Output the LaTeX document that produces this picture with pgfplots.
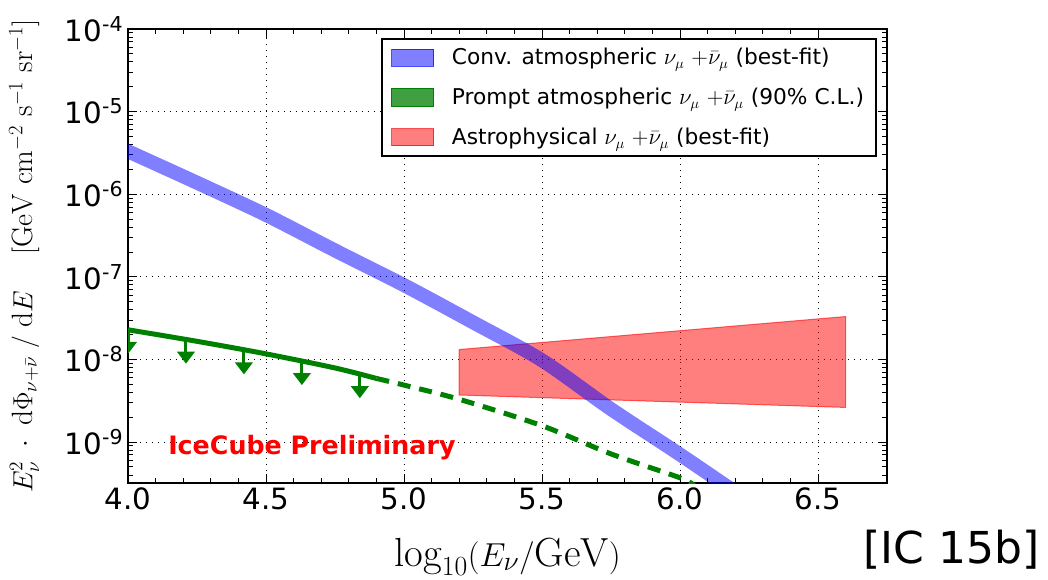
\documentclass[border=0pt]{standalone}
\usepackage{pgfplots}
\pgfplotsset{compat=1.18}
\usepackage{fontspec}
\newfontfamily\dejavu{DejaVu Sans}
\usetikzlibrary{arrows.meta}
\definecolor{mplblue}{rgb}{0,0,1}
\definecolor{mplgreen}{rgb}{0,0.5,0}
\definecolor{mplred}{rgb}{1,0,0}
\begin{document}
\begin{tikzpicture}
\useasboundingbox (0,0) rectangle (786pt,434.25pt);
\begin{axis}[
  at={(96pt,72pt)}, anchor=south west,
  scale only axis, width=569.25pt, height=340.5pt,
  xmin=4.0, xmax=6.75,
  ymode=log, log basis y=10,
  ymin=3.2e-10, ymax=1e-4,
  xtick={4.0,4.5,5.0,5.5,6.0,6.5},
  minor x tick num=4,
  grid=major,
  major grid style={black, line width=0.75pt, dash pattern=on 1pt off 3.5pt},
  axis line style={line width=1.5pt},
  every tick/.style={black, line width=0.75pt},
  major tick length=7pt, minor tick length=3.5pt,
  tick align=inside,
  xticklabel={\pgfmathprintnumber[fixed,fixed zerofill,precision=1,assume math mode=true]{\tick}},
  yticklabel={\pgfmathtruncatemacro{\ee}{round(\tick)}10\textsuperscript{\ee}},
  tick label style={font=\dejavu\fontsize{22}{26}\selectfont},
  xlabel={$\log_{10}(E_\nu/\mathrm{GeV})$},
  xlabel style={at={(axis description cs:0.5,-0.1828)}, anchor=base, font=\fontsize{30.5}{34}\selectfont},
  ylabel={$E_\nu^2\;\cdot\;\mathrm{d}\Phi_{\nu+\bar{\nu}}\;/\;\mathrm{d}E\quad\;[\mathrm{GeV\ cm^{-2}\ s^{-1}\ sr^{-1}}]$},
  ylabel style={at={(axis description cs:-0.137,0.5)}, anchor=center, font=\fontsize{22}{26}\selectfont},
  legend cell align=left,
  legend style={at={(axis description cs:0.987,0.980)}, anchor=north east, draw=black, line width=1.5pt, fill=white,
    font=\dejavu\fontsize{16.3}{19}\selectfont, row sep=12pt, inner xsep=7pt, inner ysep=5pt},
  legend image code/.code={\draw[#1, line width=0.75pt] (0pt,-6.4pt) rectangle (31.5pt,6.4pt); \path (42.5pt,0pt);},
]
\addlegendimage{fill=mplblue, fill opacity=0.5, draw=mplblue, draw opacity=0.7}
\addlegendentry{Conv. atmospheric $\nu_\mu$ $+\bar{\nu}_\mu$ (best-fit)}
\addlegendimage{fill=mplgreen, fill opacity=0.75, draw=mplgreen}
\addlegendentry{Prompt atmospheric $\nu_\mu$ $+\bar{\nu}_\mu$ (90\% C.L.)}
\addlegendimage{fill=mplred, fill opacity=0.5, draw=mplred, draw opacity=0.7}
\addlegendentry{Astrophysical $\nu_\mu$ $+\bar{\nu}_\mu$ (best-fit)}

% astrophysical band
\addplot[forget plot, fill=mplred, fill opacity=0.5, draw=mplred, draw opacity=0.6, line width=0.75pt]
  coordinates {(5.2,1.32e-8) (6.6,3.31e-8) (6.6,2.63e-9) (5.2,3.72e-9) (5.2,1.32e-8)};

% conventional atmospheric band (centre of band, drawn as a wide translucent stroke)
\addplot[forget plot, mplblue, draw opacity=0.5, line width=10.5pt, line cap=rect, smooth]
  coordinates {(4.0,3.31e-6) (4.25,1.38e-6) (4.5,5.62e-7) (4.75,2.09e-7) (5.0,7.94e-8) (5.25,2.82e-8)
               (5.5,9.77e-9) (5.75,2.51e-9) (6.0,7.08e-10) (6.25,1.91e-10)};

% prompt limit
\addplot[forget plot, mplgreen, line width=3.75pt, smooth]
  coordinates {(4.0,2.29e-8) (4.25,1.66e-8) (4.5,1.17e-8) (4.75,7.9e-9) (4.9,5.9e-9)};
\addplot[forget plot, mplgreen, line width=3.75pt, dash pattern=on 9.75pt off 6.75pt, smooth]
  coordinates {(4.9,5.9e-9) (5.0,4.9e-9) (5.2,3.3e-9) (5.5,1.58e-9) (5.75,7.2e-10) (6.0,3.7e-10) (6.05,3.0e-10)};

% upper-limit arrows
\addplot[forget plot, mplgreen, line width=2.25pt, -{Triangle[width=13pt,length=9pt]}] coordinates {(4.0,2.29e-8) (4.0,1.17e-8)};
\addplot[forget plot, mplgreen, line width=2.25pt, -{Triangle[width=13pt,length=9pt]}] coordinates {(4.21,1.74e-8) (4.21,8.9e-9)};
\addplot[forget plot, mplgreen, line width=2.25pt, -{Triangle[width=13pt,length=9pt]}] coordinates {(4.42,1.32e-8) (4.42,6.6e-9)};
\addplot[forget plot, mplgreen, line width=2.25pt, -{Triangle[width=13pt,length=9pt]}] coordinates {(4.63,9.8e-9) (4.63,4.9e-9)};
\addplot[forget plot, mplgreen, line width=2.25pt, -{Triangle[width=13pt,length=9pt]}] coordinates {(4.84,6.8e-9) (4.84,3.4e-9)};

\node[anchor=base west, inner sep=0pt, text=mplred, font=\dejavu\bfseries\fontsize{19}{22}\selectfont]
  at (axis cs:4.145,7.0e-10) {IceCube Preliminary};
\end{axis}
\node[anchor=base east, inner sep=0pt, font=\dejavu\fontsize{33}{36}\selectfont] at (780pt,12pt) {[IC 15b]};
\end{tikzpicture}
\end{document}
